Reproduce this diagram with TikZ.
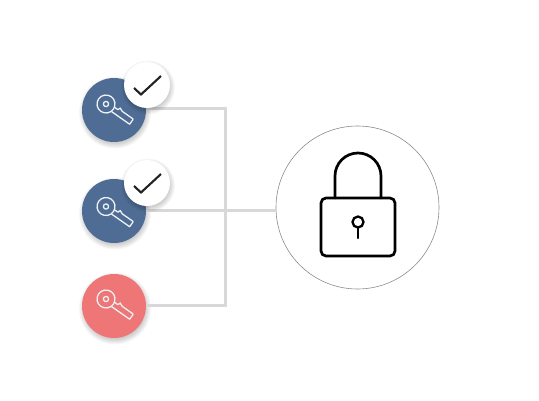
\documentclass[tikz,border=0pt]{standalone}
\definecolor{keyblue}{HTML}{4F6D94}
\definecolor{keyred}{HTML}{EF7676}
\definecolor{wire}{HTML}{D8D8D8}
\definecolor{inkdark}{HTML}{222222}
\definecolor{keyline}{HTML}{EEF1F5}
\tikzset{
  x=1pt,y=-1pt,
  keydisc/.style={circle,minimum size=64pt,inner sep=0pt,fill=#1},
  tickdisc/.style={circle,minimum size=46pt,inner sep=0pt,fill=white},
  lockring/.style={circle,minimum size=163pt,inner sep=0pt,fill=white,draw=black!45,line width=0.6pt},
  wireline/.style={draw=wire,line width=3pt,line join=miter},
  softshadow/.style={fill=black,opacity=0.03,draw=none},
  lockline/.style={draw=black,line width=2.7pt,line cap=round,line join=round},
  keyglyph/.pic={
    \begin{scope}[rotate=-35,draw=keyline,line width=1.3pt,line join=round]
      \draw (0,0) circle[radius=9];
      \draw (0,0) circle[radius=2.6];
      \draw (8.9,-2.2) -- (13,-2.2) -- (14,-4.8) -- (17.5,-3.3) -- (30.5,-3.3) -- (31,-2.5) -- (31,3) -- (8.9,3);
    \end{scope}
  },
  tickglyph/.pic={
    \draw[draw=inkdark,line width=2.1pt,line join=miter] (-13,3) -- (-6,9.5) -- (14,-9);
  }
}
\newcommand{\softdisc}[3]{%
  \foreach \g in {0,1,...,6}{
    \fill[softshadow] (#1+1,#2+2.5) circle[radius=#3+4-\g];
  }%
}
\begin{document}
\begin{tikzpicture}
  \useasboundingbox (0,0) rectangle (539,400);
  \fill[white] (0,0) rectangle (539,400);
  \coordinate (hub) at (225,210.5);
  \coordinate (top) at (225,108.5);
  \coordinate (bottom) at (225,305.5);
  \softdisc{114}{110}{32}
  \softdisc{114}{211}{32}
  \softdisc{114}{306}{32}
  \node[lockring] (lock) at (357.5,207.5) {};
  \node[keydisc=keyblue] (k1) at (114,110) {};
  \node[keydisc=keyblue] (k2) at (114,211) {};
  \node[keydisc=keyred] (k3) at (114,306) {};
  \draw[wireline] (k1.east |- top) -- (top) -- (bottom) -- (k3.east |- bottom);
  \draw[wireline] (k2.east |- hub) -- (hub) -- (lock.west |- hub);
  \pic at ([xshift=-8pt,yshift=6pt]k1) {keyglyph};
  \pic at ([xshift=-8pt,yshift=4.5pt]k2) {keyglyph};
  \pic at ([xshift=-8pt,yshift=7pt]k3) {keyglyph};
  \softdisc{147}{85}{23}
  \softdisc{147}{183}{23}
  \node[tickdisc] (t1) at (147,85) {};
  \node[tickdisc] (t2) at (147,183) {};
  \pic at (t1) {tickglyph};
  \pic at (t2) {tickglyph};
  % padlock
  \draw[lockline] (335,198) -- (335,176) arc[start angle=180,end angle=360,radius=23] -- (381,198);
  \draw[lockline,rounded corners=5pt] (321,198) rectangle (395,256);
  \draw[lockline,line width=2.3pt] (358,222) circle[radius=5.5];
  \draw[lockline,line width=2.3pt] (358,227.5) -- (358,238);
\end{tikzpicture}
\end{document}
